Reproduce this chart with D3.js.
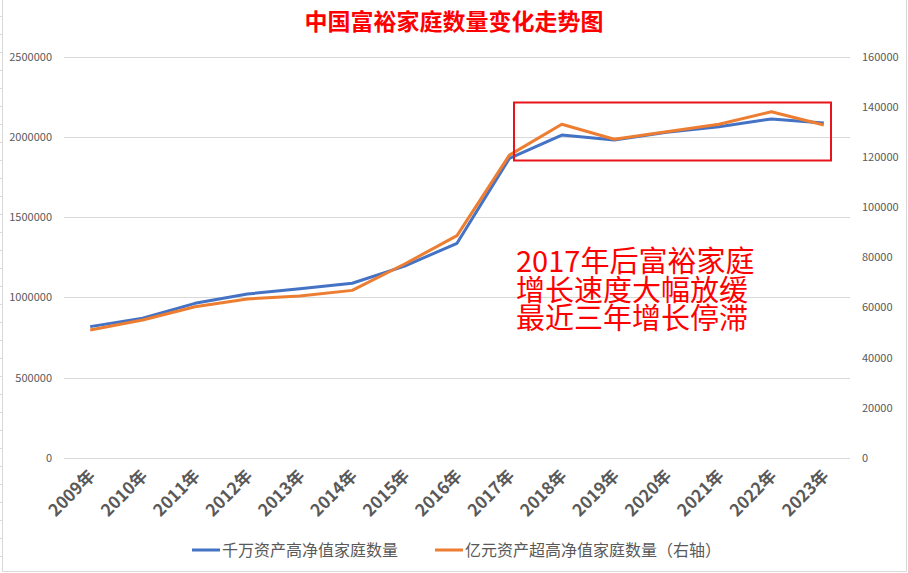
<!DOCTYPE html>
<html lang="zh">
<head>
  <meta charset="UTF-8">
  <title>中国富裕家庭数量变化走势图</title>
  <script src="https://d3js.org/d3.v7.min.js"></script>
  <style>
    body { margin: 0; background: #fff; }
    svg { display: block; font-family: "Noto Sans CJK SC", "Noto Sans", sans-serif; }
    .grid line { stroke: #d9d9d9; stroke-width: 1px; }
    .tick-label { font-size: 11px; fill: #595959; }
    .x-label { font-size: 17px; font-weight: bold; fill: #595959; }
    .legend text { font-size: 16px; fill: #595959; }
  </style>
</head>
<body>
  <svg width="908" height="573"></svg>

  <script>
    const width = 908;
    const height = 573;

    // data
    const years = ["2009年", "2010年", "2011年", "2012年", "2013年", "2014年", "2015年", "2016年",
                   "2017年", "2018年", "2019年", "2020年", "2021年", "2022年", "2023年"];
    const tenMillionHomes = [818000, 870000, 963000, 1021000, 1054000, 1088000, 1195000, 1337000,
                             1866000, 2011000, 1980000, 2028000, 2063000, 2111000, 2086000];
    const hundredMillionHomes = [51000, 55000, 60300, 63400, 64600, 66800, 77300, 88600,
                                 120700, 133000, 127000, 130000, 133000, 138000, 132700];
    const leftTicks = [0, 500000, 1000000, 1500000, 2000000, 2500000];
    const rightTicks = [0, 20000, 40000, 60000, 80000, 100000, 120000, 140000, 160000];
    const seriesNames = ["千万资产高净值家庭数量", "亿元资产超高净值家庭数量（右轴）"];
    const noteLines = ["2017年后富裕家庭", "增长速度大幅放缓", "最近三年增长停滞"];

    const svg = d3.select("svg")
        .attr("width", width)
        .attr("height", height);

    // chart border, like the spreadsheet frame
    svg.append("path")
        .attr("d", `M2.5,0 V571.5 H906.5 V0`)
        .attr("fill", "none")
        .attr("stroke", "#d9d9d9");
    svg.append("g").selectAll("line")
        .data(d3.range(16.5, 571, 18))
        .enter().append("line")
        .attr("x1", 0).attr("x2", 2.5)
        .attr("y1", d => d).attr("y2", d => d)
        .attr("stroke", "#d9d9d9");

    // scales
    const x = d3.scalePoint().domain(years).range([64, 850]).padding(0.5);
    const yLeft = d3.scaleLinear().domain([0, 2500000]).range([458, 56.5]);
    const yRight = d3.scaleLinear().domain([0, 160000]).range([458, 56.5]);

    // title
    svg.append("text")
        .attr("x", 454)
        .attr("y", 30)
        .attr("text-anchor", "middle")
        .attr("font-size", "23px")
        .attr("font-weight", "bold")
        .attr("fill", "#ff0000")
        .text("中国富裕家庭数量变化走势图");

    // gridlines
    svg.append("g")
        .attr("class", "grid")
        .selectAll("line")
        .data(leftTicks)
        .enter().append("line")
        .attr("x1", 64).attr("x2", 850)
        .attr("y1", d => Math.round(yLeft(d)) + 0.5)
        .attr("y2", d => Math.round(yLeft(d)) + 0.5);

    // left axis labels
    svg.append("g").selectAll("text")
        .data(leftTicks)
        .enter().append("text")
        .attr("class", "tick-label")
        .attr("x", 52)
        .attr("y", d => yLeft(d) + 4)
        .attr("text-anchor", "end")
        .text(d => d);

    // right axis labels
    svg.append("g").selectAll("text")
        .data(rightTicks)
        .enter().append("text")
        .attr("class", "tick-label")
        .attr("x", 862)
        .attr("y", d => yRight(d) + 4)
        .attr("text-anchor", "start")
        .text(d => d);

    // x labels, rotated
    svg.append("g").selectAll("text")
        .data(years)
        .enter().append("text")
        .attr("class", "x-label")
        .attr("text-anchor", "end")
        .attr("transform", d => `translate(${x(d) + 6},${477}) rotate(-45)`)
        .text(d => d);

    // lines
    const blueLine = d3.line()
        .x((d, i) => x(years[i]))
        .y(d => yLeft(d));
    const orangeLine = d3.line()
        .x((d, i) => x(years[i]))
        .y(d => yRight(d));

    svg.append("path")
        .datum(tenMillionHomes)
        .attr("d", blueLine)
        .attr("fill", "none")
        .attr("stroke", "#4472c4")
        .attr("stroke-width", 3)
        .attr("stroke-linejoin", "round");

    svg.append("path")
        .datum(hundredMillionHomes)
        .attr("d", orangeLine)
        .attr("fill", "none")
        .attr("stroke", "#ed7d31")
        .attr("stroke-width", 3)
        .attr("stroke-linejoin", "round");

    // highlight box around 2017-2023
    svg.append("rect")
        .attr("x", 514)
        .attr("y", 102.5)
        .attr("width", 317)
        .attr("height", 58)
        .attr("fill", "none")
        .attr("stroke", "#e8141c")
        .attr("stroke-width", 2);

    // note text, one text block with three lines
    const note = svg.append("text")
        .attr("x", 516)
        .attr("y", 272)
        .attr("font-size", "29px")
        .attr("fill", "#ff0000");
    note.selectAll("tspan")
        .data(noteLines)
        .enter().append("tspan")
        .attr("x", 516)
        .attr("dy", (d, i) => i === 0 ? 0 : 28.5)
        .text(d => d);

    // legend
    const legend = svg.append("g").attr("class", "legend");
    const legendX = [192, 435];
    const legendColors = ["#4472c4", "#ed7d31"];
    seriesNames.forEach((name, i) => {
      legend.append("line")
          .attr("x1", legendX[i]).attr("x2", legendX[i] + 28)
          .attr("y1", 550).attr("y2", 550)
          .attr("stroke", legendColors[i])
          .attr("stroke-width", 3);
      legend.append("text")
          .attr("x", legendX[i] + 30)
          .attr("y", 556)
          .text(name);
    });
  </script>
</body>
</html>
